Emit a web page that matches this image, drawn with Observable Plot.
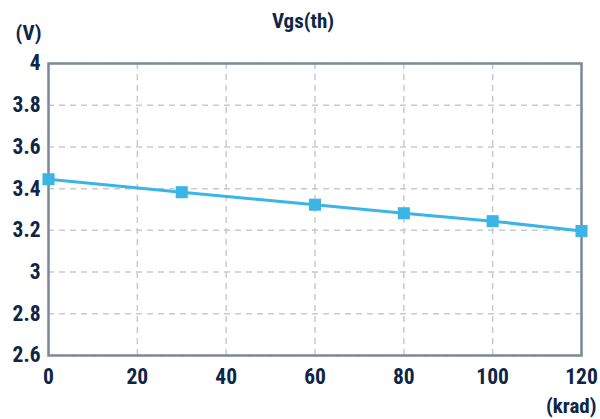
<!DOCTYPE html>
<html><head><meta charset="utf-8">
<script src="https://cdn.jsdelivr.net/npm/d3@7"></script>
<script src="https://cdn.jsdelivr.net/npm/@observablehq/plot@0.6"></script>
<style>
body{margin:0;background:#fff;}
#chart svg{display:block;}
</style>
</head><body><div id="chart"></div>
<script>
const dose = [0, 30, 60, 80, 100, 120];
const vgs = [3.445, 3.383, 3.323, 3.282, 3.244, 3.197];
const xTicks = [0, 20, 40, 60, 80, 100, 120];
const yTicks = [2.6, 2.8, 3, 3.2, 3.4, 3.6, 3.8, 4];

const data = dose.map((d, i) => ({dose: d, v: vgs[i]}));
const navy = "#0e2546";
const font = "'Roboto Condensed', 'Roboto', sans-serif";

const chart = Plot.plot({
  width: 600, height: 419,
  marginLeft: 48, marginRight: 19, marginTop: 63, marginBottom: 64,
  style: {fontFamily: font, fontSize: "21px", fontWeight: "bold", color: navy, background: "#fff"},
  x: {domain: [0, 120], ticks: xTicks, label: null},
  y: {domain: [2.6, 4], ticks: yTicks, label: null},
  marks: [
    Plot.gridX(xTicks, {stroke: "#c6cad3", strokeOpacity: 1, strokeWidth: 1.5, strokeDasharray: "6,5"}),
    Plot.gridY(yTicks, {stroke: "#c6cad3", strokeOpacity: 1, strokeWidth: 1.5, strokeDasharray: "6,5"}),
    Plot.frame({stroke: "#7d8899", strokeWidth: 2.5}),
    Plot.axisX({ticks: xTicks, tickSize: 0, tickPadding: 13, fill: navy, fontSize: 21.5, label: null, tickFormat: d => String(d)}),
    Plot.axisY({ticks: yTicks, tickSize: 0, tickPadding: 8, fill: navy, fontSize: 21.5, label: null, tickFormat: d => String(+d.toFixed(1))}),
    Plot.line(data, {x: "dose", y: "v", stroke: "#3ab5e6", strokeWidth: 3}),
    Plot.dot(data, {x: "dose", y: "v", symbol: "square", r: 6.8, fill: "#3ab5e6", stroke: "none"}),
    Plot.text(["Vgs(th)"], {frameAnchor: "top", dx: -12, dy: -50, fill: navy, fontSize: 21, fontWeight: "bold"}),
    Plot.text(["(V)"], {frameAnchor: "top-left", dx: -33, dy: -38, fill: navy, fontSize: 21, fontWeight: "bold"}),
    Plot.text(["(krad)"], {frameAnchor: "bottom-right", dx: 15, dy: 57, fill: navy, fontSize: 21, fontWeight: "bold"})
  ]
});
document.getElementById("chart").appendChild(chart);
</script>
</body></html>
